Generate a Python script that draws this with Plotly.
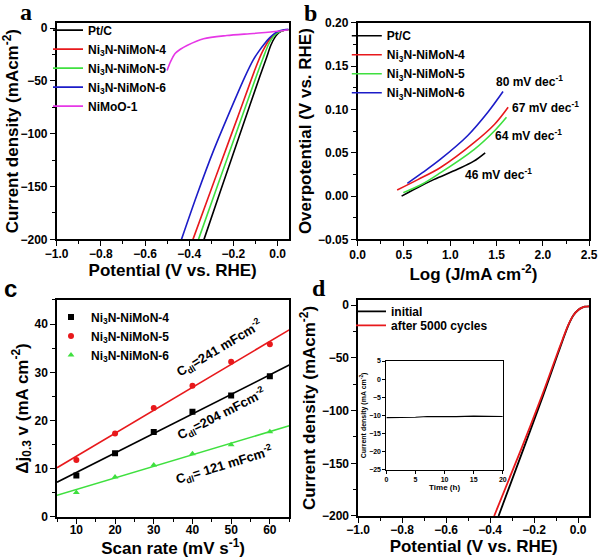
import plotly.graph_objects as go

# ---------------- dados ----------------
# painel a: curvas de polarização
a_pt_x = [0.05, 0.03, 0.005, -0.01, -0.03, -0.05, -0.08, -0.16, -0.25, -0.333]
a_pt_y = [-1.5, -2, -4.5, -8, -16, -28, -45.5, -94, -149, -200]
a_n4_x = [0.05, 0.03, 0.0, -0.015, -0.04, -0.07, -0.1, -0.18, -0.28, -0.383]
a_n4_y = [-1.5, -2, -4, -6, -12, -23, -38, -84, -141, -200]
a_n5_x = [0.05, 0.03, 0.0, -0.015, -0.04, -0.065, -0.09, -0.18, -0.27, -0.358]
a_n5_y = [-1.5, -2, -4.5, -7, -15, -28, -42, -95, -148, -200]
a_n6_x = [0.05, 0.03, 0.01, -0.01, -0.035, -0.06, -0.085, -0.11, -0.15, -0.2, -0.29, -0.365, -0.435]
a_n6_y = [-1, -1.5, -2.5, -4.5, -9, -15, -22, -30, -47, -71, -116, -158, -200]
a_mo_x = [0.05, 0.0, -0.11, -0.23, -0.335, -0.41, -0.44, -0.464, -0.485, -0.5]
a_mo_y = [-1.5, -3, -5, -7, -10, -16.4, -20, -24, -32, -40]

# painel b: Tafel
b_pt_x = [0.475, 0.65, 0.821, 1.078, 1.25, 1.377]
b_pt_y = [0.0, 0.010, 0.019, 0.031, 0.040, 0.050]
b_n4_x = [0.427, 0.65, 0.895, 1.26, 1.479, 1.625]
b_n4_y = [0.007, 0.019, 0.033, 0.062, 0.083, 0.1026]
b_n5_x = [0.493, 0.70, 0.895, 1.26, 1.479, 1.607]
b_n5_y = [0.004, 0.014, 0.027, 0.054, 0.0755, 0.091]
b_n6_x = [0.537, 0.70, 0.895, 1.187, 1.406, 1.57]
b_n6_y = [0.0147, 0.027, 0.0426, 0.0697, 0.0968, 0.1207]
b_slopes = ["80 mV dec<sup>-1</sup>", "67 mV dec<sup>-1</sup>", "64 mV dec<sup>-1</sup>", "46 mV dec<sup>-1</sup>"]
b_slope_x = [1.86, 2.03, 1.84, 1.52]
b_slope_y = [0.133, 0.103, 0.070, 0.025]

# painel c: Cdl
c_scan = [10, 20, 30, 40, 50, 60]
c_n4 = [8.6, 13.2, 17.6, 21.8, 25.2, 29.2]
c_n5 = [11.8, 17.3, 22.6, 27.2, 32.2, 35.8]
c_n6 = [5.1, 8.3, 10.8, 13.1, 15.0, 17.7]
c_fit_x = [5, 65]
c_fit_n4 = [7.2, 31.5]
c_fit_n5 = [10.2, 38.8]
c_fit_n6 = [4.5, 18.9]
c_labels = ["C<sub>dl</sub>=241 mFcm<sup>-2</sup>", "C<sub>dl</sub>=204 mFcm<sup>-2</sup>",
            "C<sub>dl</sub>= 121 mFcm<sup>-2</sup>"]
c_label_x = [47.0, 47.4, 48.1]
c_label_y = [35.0, 21.4, 10.8]
c_label_ang = [-31, -27, -17]

# painel d: estabilidade
d_ini_x = [0.05, 0.03, 0.015, 0.0, -0.02, -0.045, -0.07, -0.094, -0.16, -0.25, -0.362]
d_ini_y = [-1, -1.3, -2.5, -4.5, -9, -19, -33, -47, -86, -137, -200]
d_aft_x = [0.05, 0.03, 0.015, 0.0, -0.02, -0.046, -0.072, -0.097, -0.165, -0.26, -0.382]
d_aft_y = [-1, -1.3, -2.5, -4.5, -9, -19, -33, -47, -86, -137, -200]
ins_t = [0, 2, 5, 7, 10, 12, 15, 18, 20]
ins_j = [-10.6, -10.6, -10.5, -10.3, -10.4, -10.35, -10.2, -10.25, -10.3]

PRETO = "black"
VERMELHO = "#e8191c"
VERDE = "#3fe03f"
AZUL = "#1c1cc8"
MAGENTA = "#e637e6"

fig = go.Figure()

# ----------- painel a -----------
for x, y, nome, cor in [
    (a_pt_x, a_pt_y, "Pt/C", PRETO),
    (a_n4_x, a_n4_y, "Ni<sub>3</sub>N-NiMoN-4", VERMELHO),
    (a_n5_x, a_n5_y, "Ni<sub>3</sub>N-NiMoN-5", VERDE),
    (a_n6_x, a_n6_y, "Ni<sub>3</sub>N-NiMoN-6", AZUL),
    (a_mo_x, a_mo_y, "NiMoO-1", MAGENTA),
]:
    fig.add_trace(go.Scatter(x=x, y=y, mode="lines", name=nome,
                             line=dict(color=cor, width=1.6, shape="spline", smoothing=0.8),
                             xaxis="x", yaxis="y", legend="legend"))

# ----------- painel b -----------
for x, y, nome, cor in [
    (b_pt_x, b_pt_y, "Pt/C", PRETO),
    (b_n4_x, b_n4_y, "Ni<sub>3</sub>N-NiMoN-4", VERMELHO),
    (b_n5_x, b_n5_y, "Ni<sub>3</sub>N-NiMoN-5", VERDE),
    (b_n6_x, b_n6_y, "Ni<sub>3</sub>N-NiMoN-6", AZUL),
]:
    fig.add_trace(go.Scatter(x=x, y=y, mode="lines", name=nome,
                             line=dict(color=cor, width=1.6, shape="spline"),
                             xaxis="x2", yaxis="y2", legend="legend2"))

# ----------- painel c -----------
for y, fit, nome, cor, simb in [
    (c_n4, c_fit_n4, "Ni<sub>3</sub>N-NiMoN-4", PRETO, "square"),
    (c_n5, c_fit_n5, "Ni<sub>3</sub>N-NiMoN-5", VERMELHO, "circle"),
    (c_n6, c_fit_n6, "Ni<sub>3</sub>N-NiMoN-6", VERDE, "triangle-up"),
]:
    fig.add_trace(go.Scatter(x=c_scan, y=y, mode="markers", name=nome,
                             marker=dict(color=cor, size=6, symbol=simb),
                             xaxis="x3", yaxis="y3", legend="legend3"))
    fig.add_trace(go.Scatter(x=c_fit_x, y=fit, mode="lines", showlegend=False,
                             line=dict(color=cor, width=1.6),
                             xaxis="x3", yaxis="y3"))

# ----------- painel d -----------
# cada entrada numa legenda própria para ficarem mais juntas, como no original
fig.add_trace(go.Scatter(x=d_ini_x, y=d_ini_y, mode="lines", name="initial",
                         line=dict(color=PRETO, width=1.8, shape="spline", smoothing=0.8),
                         xaxis="x4", yaxis="y4", legend="legend4"))
fig.add_trace(go.Scatter(x=d_aft_x, y=d_aft_y, mode="lines", name="after 5000 cycles",
                         line=dict(color=VERMELHO, width=1.8, shape="spline", smoothing=0.8),
                         xaxis="x4", yaxis="y4", legend="legend5"))
fig.add_trace(go.Scatter(x=ins_t, y=ins_j, mode="lines", showlegend=False,
                         line=dict(color=PRETO, width=1.2),
                         xaxis="x5", yaxis="y5"))

fonte = dict(family="Liberation Sans, Arial", color="black", weight="bold")


def eixo(dominio, faixa, dtick, minor, titulo, ancora, tam_tick=12, tam_tit=17, fmt=None, recuo=2, afasta=0):
    d = dict(
        domain=dominio, range=faixa, dtick=dtick, anchor=ancora, automargin=False,
        showline=True, linecolor="black", linewidth=1.5, mirror=True,
        ticks="outside", ticklen=5, tickwidth=1.3, tickcolor="black",
        minor=dict(ticks="outside", ticklen=3, dtick=minor, tickcolor="black", tickwidth=1.2),
        showgrid=False, zeroline=False, ticklabelstandoff=afasta,
        tickfont=dict(size=tam_tick, **fonte),
        title=dict(text=titulo, font=dict(size=tam_tit, **fonte), standoff=recuo),
    )
    if fmt:
        d["tickformat"] = fmt
    return d


leg = dict(bgcolor="rgba(0,0,0,0)", font=dict(size=12, **fonte),
           xanchor="left", yanchor="top", itemwidth=30, tracegroupgap=0)

fig.update_layout(
    width=600, height=558,
    margin=dict(l=0, r=0, t=0, b=0, autoexpand=False),
    paper_bgcolor="white", plot_bgcolor="white",
    xaxis=eixo([0.0945, 0.481], [-1.0, 0.05], 0.2, 0.1, "Potential (V vs. RHE)", "y", fmt=".1f",
               recuo=0, afasta=-3),
    yaxis=eixo([0.571, 0.959], [-200, 5], 50, 25, "Current density (mAcm<sup>-2</sup>)", "x"),
    xaxis2=eixo([0.596, 0.982], [0, 2.5], 0.5, 0.25, "Log (J/mA cm<sup>-2</sup>)", "y2", fmt=".1f",
                afasta=-2),
    yaxis2=eixo([0.571, 0.959], [-0.05, 0.2], 0.05, 0.025, "Overpotential (V vs. RHE)", "x2", fmt=".2f"),
    xaxis3=eixo([0.095, 0.482], [5, 65], 10, 5, "Scan rate (mV s<sup>-1</sup>)", "y3", recuo=0, afasta=-4),
    yaxis3=eixo([0.0735, 0.4624], [0, 45], 10, 5, "Δj<sub>0.3</sub> v (mA cm<sup>-2</sup>)", "x3"),
    xaxis4=eixo([0.597, 0.982], [-1.0, 0.05], 0.2, 0.1, "Potential (V vs. RHE)", "y4", fmt=".1f",
                recuo=0, afasta=-3),
    yaxis4=eixo([0.0753, 0.4624], [-200, 5], 50, 25, "Current density (mAcm<sup>-2</sup>)", "x4"),
    xaxis5=eixo([0.644, 0.838], [0, 20], 5, 1, "Time (h)", "y5", tam_tick=7, tam_tit=8, recuo=1),
    yaxis5=eixo([0.158, 0.353], [-25, 5], 5, 1, "Current density (mA cm<sup>-2</sup>)", "x5",
                tam_tick=7, tam_tit=7, recuo=1),
    legend=dict(x=0.08, y=0.972, **leg),
    legend2=dict(x=0.578, y=0.962, **leg),
    legend3=dict(x=0.085, y=0.458, **leg),
    legend4=dict(x=0.585, y=0.468, **leg),
    legend5=dict(x=0.585, y=0.443, **leg),
)

# eixos do inset mais finos
for nome in ["xaxis5", "yaxis5"]:
    fig.layout[nome].update(linewidth=1, ticklen=3, tickwidth=1,
                            minor=dict(ticklen=0, ticks=""))

# rótulos das inclinações de Tafel
for txt, x, y in zip(b_slopes, b_slope_x, b_slope_y):
    fig.add_annotation(text=txt, x=x, y=y, xref="x2", yref="y2", showarrow=False,
                       font=dict(size=12, **fonte))

# rótulos de Cdl
for txt, x, y, ang in zip(c_labels, c_label_x, c_label_y, c_label_ang):
    fig.add_annotation(text=txt, x=x, y=y, xref="x3", yref="y3", showarrow=False,
                       textangle=ang, font=dict(size=13, **fonte))

# letras dos painéis
for letra, x, y, fam in [("a", 0.043, 0.978, "Liberation Serif"), ("b", 0.518, 0.977, "Liberation Serif"),
                         ("c", 0.018, 0.483, "Liberation Sans"), ("d", 0.531, 0.483, "Liberation Serif")]:
    fig.add_annotation(text=letra, x=x, y=y, xref="paper", yref="paper", showarrow=False,
                       xanchor="center", yanchor="middle",
                       font=dict(size=24, family=fam, color="black", weight="bold"))

# sem margem do body, a figura fica no canto da janela
fig.write_html("out.html", config={"displayModeBar": False},
               post_script="document.body.style.margin='0';")
